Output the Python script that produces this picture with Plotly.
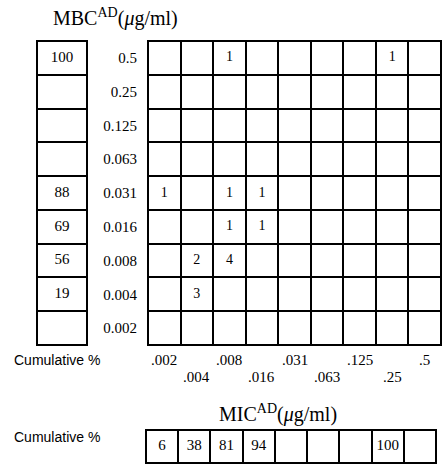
import plotly.graph_objects as go

# ---- data ----
mic_labels = ['.002', '.004', '.008', '.016', '.031', '.063', '.125', '.25', '.5']
mbc_labels = ['0.002', '0.004', '0.008', '0.016', '0.031', '0.063', '0.125', '0.25', '0.5']  # bottom -> top
cell_mic = ['.008', '.25', '.002', '.008', '.016', '.008', '.016', '.004', '.008', '.004']
cell_mbc = ['0.5', '0.5', '0.031', '0.031', '0.031', '0.016', '0.016', '0.008', '0.008', '0.004']
cell_count = [1, 1, 1, 1, 1, 1, 1, 2, 4, 3]
mbc_cum = ['', '19', '56', '69', '88', '', '', '', '100']  # bottom -> top
mic_cum = ['6', '38', '81', '94', '', '', '', '100', '']

W, H = 442, 465
SERIF = 'Liberation Serif'
SANS = 'Liberation Sans'


def fx(px):
    return px / W


def fy(px):
    return 1 - px / H


n = len(mic_labels)
m = len(mbc_labels)
white = [[0, 'white'], [1, 'white']]

fig = go.Figure()

# main grid
fig.add_trace(go.Heatmap(
    x=list(range(n)), y=list(range(m)),
    z=[[0] * n for _ in range(m)],
    colorscale=white, showscale=False, xgap=2, ygap=2, hoverinfo='skip',
    xaxis='x', yaxis='y'))
fig.add_trace(go.Scatter(
    x=[mic_labels.index(v) for v in cell_mic],
    y=[mbc_labels.index(v) for v in cell_mbc],
    text=[str(c) for c in cell_count], mode='text',
    textfont=dict(family=SERIF, size=14, color='black'),
    xaxis='x', yaxis='y', hoverinfo='skip'))

# left cumulative column (MBC)
mbc_idx = [i for i, v in enumerate(mbc_cum) if v]
fig.add_trace(go.Heatmap(
    x=[0], y=list(range(m)), z=[[0] for _ in range(m)],
    colorscale=white, showscale=False, xgap=2, ygap=2, hoverinfo='skip',
    xaxis='x2', yaxis='y2'))
fig.add_trace(go.Scatter(
    x=[0] * len(mbc_idx), y=mbc_idx, text=[mbc_cum[i] for i in mbc_idx], mode='text',
    textfont=dict(family=SERIF, size=15, color='black'),
    xaxis='x2', yaxis='y2', hoverinfo='skip'))

# bottom cumulative row (MIC)
mic_idx = [i for i, v in enumerate(mic_cum) if v]
fig.add_trace(go.Heatmap(
    x=list(range(n)), y=[0], z=[[0] * n],
    colorscale=white, showscale=False, xgap=2, ygap=2, hoverinfo='skip',
    xaxis='x3', yaxis='y3'))
fig.add_trace(go.Scatter(
    x=mic_idx, y=[0] * len(mic_idx), text=[mic_cum[i] for i in mic_idx], mode='text',
    textfont=dict(family=SERIF, size=15, color='black'),
    xaxis='x3', yaxis='y3', hoverinfo='skip'))

ax_common = dict(showgrid=False, zeroline=False, showline=False, fixedrange=True)

main_top, main_bot = 41, 345
fig.update_layout(
    width=W, height=H, margin=dict(l=0, r=0, t=0, b=0),
    paper_bgcolor='white', plot_bgcolor='black', showlegend=False,
    xaxis=dict(domain=[fx(148), fx(441)], range=[-0.5, n - 0.5], showticklabels=False,
               anchor='y', **ax_common),
    yaxis=dict(domain=[fy(main_bot), fy(main_top)], range=[-0.5, m - 0.5],
               tickvals=list(range(m)), ticktext=mbc_labels, ticks='',
               ticklabelstandoff=10,
               tickfont=dict(family=SERIF, size=15, color='black'),
               anchor='x', **ax_common),
    xaxis2=dict(domain=[fx(37), fx(87)], range=[-0.5, 0.5], showticklabels=False,
                anchor='y2', **ax_common),
    yaxis2=dict(domain=[fy(main_bot), fy(main_top)], range=[-0.5, m - 0.5],
                showticklabels=False, anchor='x2', **ax_common),
    xaxis3=dict(domain=[fx(146), fx(436)], range=[-0.5, n - 0.5], showticklabels=False,
                anchor='y3', **ax_common),
    yaxis3=dict(domain=[fy(463), fy(430)], range=[-0.5, 0.5], showticklabels=False,
                anchor='x3', **ax_common),
)

# borders
for xr, yr in [('x', 'y'), ('x2', 'y2'), ('x3', 'y3')]:
    fig.add_shape(type='rect', xref=f'{xr} domain', yref=f'{yr} domain',
                  x0=0, x1=1, y0=0, y1=1, line=dict(color='black', width=2))

# staggered MIC tick labels
for i, lab in enumerate(mic_labels):
    fig.add_annotation(x=i, xref='x', y=fy(360 if i % 2 == 0 else 377), yref='paper',
                       text=lab, showarrow=False, xanchor='center', yanchor='middle',
                       font=dict(family=SERIF, size=15, color='black'))

fig.add_annotation(x=fx(115), y=fy(17), xref='paper', yref='paper', showarrow=False,
                   text='MBC<sup>AD</sup>(<i>μ</i>g/ml)', xanchor='center', yanchor='middle',
                   font=dict(family=SERIF, size=20, color='black'))
fig.add_annotation(x=fx(278), y=fy(413), xref='paper', yref='paper', showarrow=False,
                   text='MIC<sup>AD</sup>(<i>μ</i>g/ml)', xanchor='center', yanchor='middle',
                   font=dict(family=SERIF, size=20, color='black'))
for ypx in (360, 437):
    fig.add_annotation(x=fx(12), y=fy(ypx), xref='paper', yref='paper', showarrow=False,
                       text='Cumulative %', xanchor='left', yanchor='middle',
                       font=dict(family=SANS, size=14, color='black'))

fig.write_html('out.html', config={'displayModeBar': False, 'staticPlot': True},
               post_script="document.body.style.margin='0';document.body.style.overflow='hidden';")
